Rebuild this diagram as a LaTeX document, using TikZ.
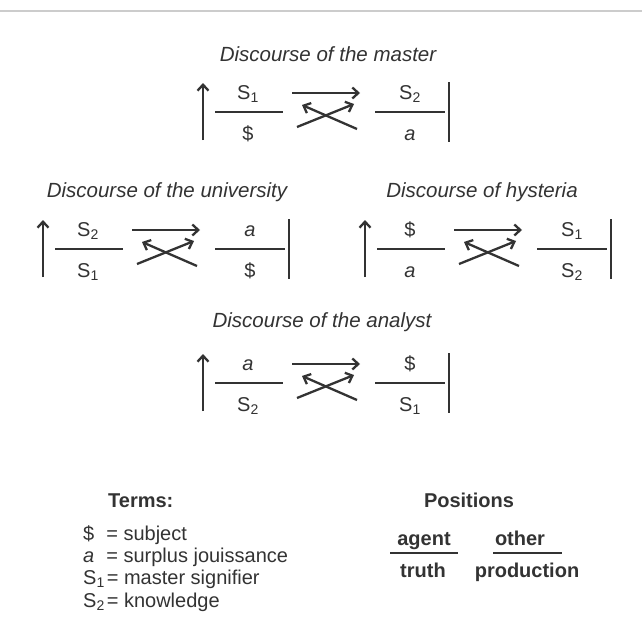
\documentclass[tikz,border=0pt]{standalone}
\usepackage{fontspec}
\setmainfont{Liberation Sans}
\usetikzlibrary{arrows.meta}
\definecolor{ink}{HTML}{333333}
\definecolor{rulegrey}{HTML}{CCCCCC}
\newcommand\SoneX{S\textsubscript{1}}
\newcommand\StwoX{S\textsubscript{2}}
\tikzset{
  ln/.style={draw=ink, line width=2.3pt},
  arr/.style={ln, -{Straight Barb[length=6pt,width=11pt,line width=2.3pt]}},
  lbl/.style={text=ink, font=\fontsize{20}{24}\selectfont, inner sep=0pt, anchor=base},
  ttl/.style={lbl, font=\fontsize{20.5}{24}\selectfont\itshape},
  bld/.style={lbl, font=\fontsize{20}{24}\selectfont\bfseries},
  term/.style={lbl, anchor=base west},
}
\newcommand\disc[7]{%
  \begin{scope}[shift={(#2,#3)}]
    \coordinate (#1ua) at (0,28);   \coordinate (#1ub) at (0,-29);
    \coordinate (#1l1) at (12,0);   \coordinate (#1l2) at (80,0);
    \node[lbl] (#1tl) at (45,-13) {#4};
    \node[lbl] (#1bl) at (45,28) {#5};
    \coordinate (#1a1) at (89,-19); \coordinate (#1a2) at (157,-19);
    \coordinate (#1c1) at (94,15);  \coordinate (#1c2) at (151,-8);
    \coordinate (#1d1) at (154,17); \coordinate (#1d2) at (99,-7);
    \coordinate (#1r1) at (172,0);  \coordinate (#1r2) at (242,0);
    \node[lbl] (#1tr) at (207,-13) {#6};
    \node[lbl] (#1br) at (207,28) {#7};
    \coordinate (#1b1) at (246,-30); \coordinate (#1b2) at (246,30);
    \draw[arr] (#1ua) -- (#1ub);
    \draw[ln] (#1l1) -- (#1l2);
    \draw[arr] (#1a1) -- (#1a2);
    \draw[arr] (#1c1) -- (#1c2);
    \draw[arr] (#1d1) -- (#1d2);
    \draw[ln] (#1r1) -- (#1r2);
    \draw[ink, line width=2.8pt] (#1b1) -- (#1b2);
  \end{scope}}
\begin{document}
\begin{tikzpicture}[x=1pt, y=-1pt]
  \useasboundingbox (0,0) rectangle (642,642);
  \fill[white] (0,0) rectangle (642,642);
  \coordinate (topL) at (0,11);
  \coordinate (topR) at (642,11);
  \draw[rulegrey, line width=1.5pt] (topL) -- (topR);

  \node[ttl] (tMaster) at (328,62) {Discourse of the master};
  \disc{m}{203}{112}{\SoneX}{\$}{\StwoX}{\textit{a}}

  \node[ttl] (tUniv) at (167,197) {Discourse of the university};
  \disc{u}{43}{249}{\StwoX}{\SoneX}{\textit{a}}{\$}

  \node[ttl] (tHyst) at (482,197) {Discourse of hysteria};
  \disc{h}{365}{249}{\$}{\textit{a}}{\SoneX}{\StwoX}

  \node[ttl] (tAnal) at (322,327) {Discourse of the analyst};
  \disc{an}{203}{383}{\textit{a}}{\StwoX}{\$}{\SoneX}

  \node[bld, anchor=base west] (terms) at (108,507) {Terms:};
  \node[term] (t1) at (83,540) {\$\hspace{12pt}= subject};
  \node[term] (t2) at (83,562) {\textit{a}\hspace{12pt}= surplus jouissance};
  \node[term] (t3) at (83,584) {\SoneX\hspace{2pt}= master signifier};
  \node[term] (t4) at (83,607) {\StwoX\hspace{2pt}= knowledge};

  \node[bld] (pos) at (469,507) {Positions};
  \node[bld] (agent) at (424,545) {agent};
  \node[bld] (truth) at (423,577) {truth};
  \node[bld] (other) at (520,545) {other};
  \node[bld] (prod) at (527,577) {production};
  \coordinate (pl1) at (390,553); \coordinate (pl2) at (458,553);
  \coordinate (pr1) at (493,553); \coordinate (pr2) at (562,553);
  \draw[ln] (pl1) -- (pl2);
  \draw[ln] (pr1) -- (pr2);
\end{tikzpicture}
\end{document}
